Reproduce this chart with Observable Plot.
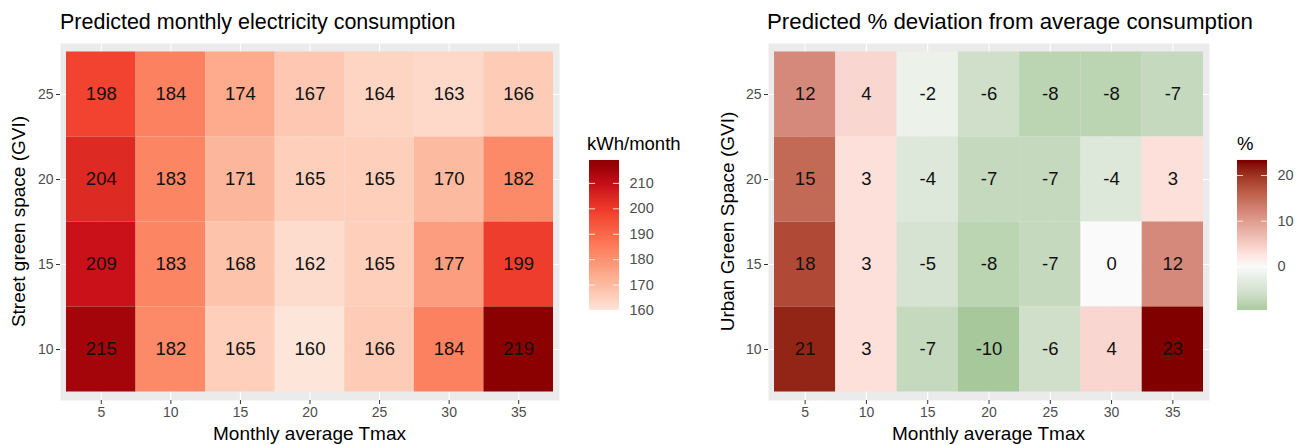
<!DOCTYPE html>
<html><head><meta charset="utf-8">
<script src="https://cdn.jsdelivr.net/npm/d3@7"></script>
<script src="https://cdn.jsdelivr.net/npm/@observablehq/plot@0.6"></script>
<style>
body{margin:0;background:#fff;}
#root{position:relative;width:1297px;height:445px;overflow:hidden;background:#fff;font-family:"Liberation Sans",Arial,sans-serif;}
#root svg{position:absolute;overflow:visible;}
</style></head><body><div id="root"></div>
<script>
// ---- data ----
const tmax = [5, 10, 15, 20, 25, 30, 35];
const gvi = [25, 20, 15, 10];
const consumption = [
  [198, 184, 174, 167, 164, 163, 166],
  [204, 183, 171, 165, 165, 170, 182],
  [209, 183, 168, 162, 165, 177, 199],
  [215, 182, 165, 160, 166, 184, 219]
];
const deviation = [
  [12, 4, -2, -6, -8, -8, -7],
  [15, 3, -4, -7, -7, -4, 3],
  [18, 3, -5, -8, -7, 0, 12],
  [21, 3, -7, -10, -6, 4, 23]
];
const kwhTicks = [160, 170, 180, 190, 200, 210];
const pctTicks = [0, 10, 20];
const titles = ["Predicted monthly electricity consumption", "Predicted % deviation from average consumption"];
const yTitles = ["Street green space (GVI)", "Urban Green Space (GVI)"];
const xTitle = "Monthly average Tmax";
const legendTitles = ["kWh/month", "%"];

// ---- scales ----
const kwhColor = {
  type: "linear",
  domain: [160, 169.83, 179.67, 189.5, 199.33, 209.17, 219],
  range: ["#fee5d9", "#fcbba1", "#fc9272", "#fb6a4a", "#ef3b2c", "#c9101a", "#8b0000"],
  interpolate: "lab"
};
const pctColor = {
  type: "linear",
  domain: [-10, -6, 0, 3, 12, 18, 23],
  range: ["#a6c89b", "#cfdfca", "#fafafa", "#fde0da", "#d5897a", "#b04a36", "#800000"],
  interpolate: "lab"
};

const tidy = (m) => gvi.flatMap((g, i) => tmax.map((t, j) => ({t, g, v: m[i][j]})));
const root = document.getElementById("root");
const FONT = "Liberation Sans, Arial, sans-serif";
const TICK = 14;
const LTICK = 14.5;

function heat({data, color, left, width, marginLeft, marginRight, xDomain}) {
  const p = Plot.plot({
    width, height: 445,
    marginLeft, marginRight, marginTop: 43, marginBottom: 45,
    style: {fontFamily: FONT, fontSize: TICK + "px", background: "transparent", overflow: "visible"},
    x: {domain: xDomain, axis: null},
    y: {domain: [7, 28], axis: null},
    color,
    marks: [
      Plot.frame({fill: "#ebebeb", stroke: null}),
      Plot.gridX(tmax, {stroke: "white", strokeOpacity: 1, strokeWidth: 1.1}),
      Plot.gridY(gvi, {stroke: "white", strokeOpacity: 1, strokeWidth: 1.1}),
      Plot.rect(data, {x1: d => d.t - 2.5, x2: d => d.t + 2.5, y1: d => d.g - 2.5, y2: d => d.g + 2.5, fill: "v"}),
      Plot.text(data, {x: "t", y: "g", text: d => String(d.v), fill: "#111", fontSize: 18.5}),
      Plot.axisX(tmax, {tickSize: 4, tickPadding: 3, stroke: "#333", fill: "#4d4d4d", fontSize: TICK, label: null}),
      Plot.axisY(gvi, {tickSize: 4, tickPadding: 3, stroke: "#333", fill: "#4d4d4d", fontSize: TICK, label: null})
    ]
  });
  p.style.left = left + "px";
  p.style.top = "0px";
  root.appendChild(p);
}

function legend({color, lo, hi, ticks, left, width, marginLeft}) {
  const n = 150;
  const steps = d3.range(n).map(i => lo + (hi - lo) * (i + 0.5) / n);
  const h = (hi - lo) / n;
  const p = Plot.plot({
    width, height: 185,
    marginLeft, marginRight: width - marginLeft - 30, marginTop: 20, marginBottom: 15,
    style: {fontFamily: FONT, fontSize: LTICK + "px", background: "transparent", overflow: "visible"},
    x: {domain: [0, 1], axis: null},
    y: {domain: [lo, hi], axis: null},
    color,
    marks: [
      Plot.rect(steps, {x1: () => 0, x2: () => 1, y1: d => d - h / 2 - 0.01, y2: d => d + h / 2 + 0.01, fill: d => d}),
      Plot.ruleY(ticks.filter(t => t > lo), {x1: () => 0, x2: () => 0.2, stroke: "white", strokeOpacity: 0.8}),
      Plot.ruleY(ticks.filter(t => t > lo), {x1: () => 0.8, x2: () => 1, stroke: "white", strokeOpacity: 0.8}),
      Plot.text(ticks, {x: () => 1, y: d => d, text: d => String(d), dx: 10, textAnchor: "start", fill: "#4d4d4d", fontSize: LTICK})
    ]
  });
  p.style.left = left + "px";
  p.style.top = "140px";
  root.appendChild(p);
}

heat({data: tidy(consumption), color: kwhColor, left: 0, width: 580, marginLeft: 60, marginRight: 21, xDomain: [2.069, 37.931]});
heat({data: tidy(deviation), color: pctColor, left: 700, width: 520, marginLeft: 68, marginRight: 11, xDomain: [2.01, 37.99]});
legend({color: kwhColor, lo: 160, hi: 219, ticks: kwhTicks, left: 570, width: 110, marginLeft: 19});
legend({color: pctColor, lo: -9.6, hi: 23.3, ticks: pctTicks, left: 1220, width: 77, marginLeft: 17});
{
  const svg = d3.select(root).append("svg").attr("width", 1297).attr("height", 445)
    .style("left", "0px").style("top", "0px").style("pointer-events", "none")
    .attr("font-family", FONT);
  const t = (x, y, s, size, anchor = "start", rot = false, fill = "#000") => {
    const e = svg.append("text").attr("font-size", size).attr("fill", fill).attr("text-anchor", anchor).text(s);
    if (rot) e.attr("transform", `translate(${x},${y}) rotate(-90)`); else e.attr("x", x).attr("y", y);
  };
  t(60, 29, titles[0], 21.5);
  t(767, 29, titles[1], 22.3);
  t(309.5, 440, xTitle, 19, "middle");
  t(988.5, 440, xTitle, 19, "middle");
  t(25, 221.5, yTitles[0], 19, "middle", true);
  t(734, 221.5, yTitles[1], 19, "middle", true);
  t(587, 150, legendTitles[0], 18.5);
  t(1237, 150, legendTitles[1], 18.5);
}
</script></body></html>
